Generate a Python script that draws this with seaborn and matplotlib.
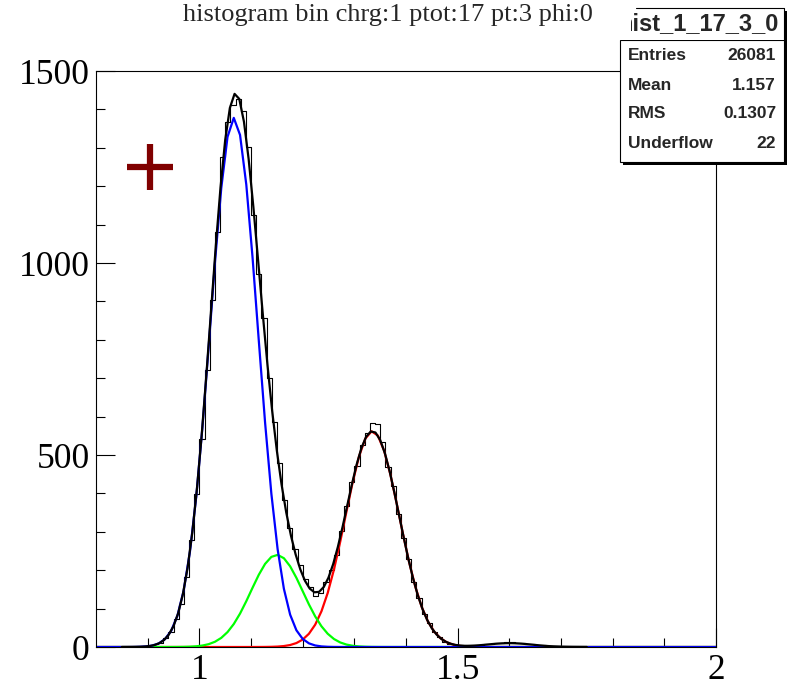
import numpy as np
import pandas as pd
import matplotlib
matplotlib.use("Agg")
import matplotlib.pyplot as plt
from matplotlib.patches import Rectangle
from matplotlib.lines import Line2D
from matplotlib.transforms import Bbox, TransformedBbox
import seaborn as sns

# ---- data -------------------------------------------------------------
x_lo, x_hi, n_bins = 0.8, 2.0, 120

counts = [
    0, 0, 0, 0, 0, 0, 0, 1, 0, 2,                      # 0.80 - 0.90
    3, 7, 11, 24, 38, 74, 112, 181, 279, 398,          # 0.90 - 1.00
    541, 722, 903, 1081, 1276, 1366, 1412, 1428, 1396, 1303,  # 1.00 - 1.10
    1124, 972, 858, 700, 585, 479, 384, 309, 255, 214,  # 1.10 - 1.20
    178, 156, 134, 140, 168, 201, 240, 302, 368, 429,   # 1.20 - 1.30
    472, 526, 558, 583, 580, 534, 470, 420, 347, 283,   # 1.30 - 1.40
    228, 168, 128, 86, 62, 38, 26, 14, 9, 6,            # 1.40 - 1.50
    4, 3, 5, 4, 6, 8, 9, 11, 10, 13,                    # 1.50 - 1.60
    12, 10, 11, 8, 7, 6, 4, 3, 2, 2,                    # 1.60 - 1.70
    1, 0, 1, 0, 0, 0, 0, 0, 0, 0,                       # 1.70 - 1.80
    0, 0, 0, 0, 0, 0, 0, 0, 0, 0,                       # 1.80 - 1.90
    0, 0, 0, 0, 0, 0, 0, 0, 0, 0,                       # 1.90 - 2.00
]

# fitted gaussian components: amplitude, mean, sigma
blue_par = [1378.0, 1.067, 0.046]
green_par = [240.0, 1.150, 0.050]
red_par = [562.0, 1.335, 0.052]
tail_par = [10.0, 1.600, 0.045]
total_range = [0.85, 1.75]

title_text = "histogram bin chrg:1 ptot:17 pt:3 phi:0"
hist_name = "hist_1_17_3_0"
stat_labels = ["Entries", "Mean", "RMS", "Underflow"]
stat_values = ["26081", "1.157", "0.1307", "22"]
marker_x, marker_y = 0.905, 1250

# ---- helpers ----------------------------------------------------------
def gaus(x, p):
    return p[0] * np.exp(-0.5 * ((x - p[1]) / p[2]) ** 2)

W, H = 787, 688

def fx(px):
    return px / W

def fy(py):
    return 1 - py / H

# ---- figure -----------------------------------------------------------
sns.set_style("ticks")
plt.rcParams["font.family"] = ["Liberation Serif", "DejaVu Serif"]

fig = plt.figure(figsize=(W / 100, H / 100), dpi=100)
ax = fig.add_axes([fx(96), fy(647), fx(716) - fx(96), fy(71) - fy(647)])

edges = np.linspace(x_lo, x_hi, n_bins + 1)
centers = 0.5 * (edges[:-1] + edges[1:])
df = pd.DataFrame({"x": centers, "n": counts})
sns.histplot(data=df, x="x", weights="n", bins=n_bins, binrange=(x_lo, x_hi),
             element="step", fill=False, color="black", linewidth=0.8, ax=ax)

# fit functions, sampled like a 100-point TF1
xs = np.linspace(x_lo, x_hi, 100)
xt = np.linspace(total_range[0], total_range[1], 100)
total = gaus(xt, blue_par) + gaus(xt, green_par) + gaus(xt, red_par) + gaus(xt, tail_par)
lw = 1.6
sns.lineplot(x=xs, y=gaus(xs, red_par), color="#ff0000", linewidth=lw, ax=ax, sort=False)
sns.lineplot(x=xs, y=gaus(xs, green_par), color="#00ff00", linewidth=lw, ax=ax, sort=False)
sns.lineplot(x=xs, y=gaus(xs, blue_par), color="#0000ff", linewidth=lw, ax=ax, sort=False)
sns.lineplot(x=xt, y=total, color="black", linewidth=lw, ax=ax, sort=False)

ax.plot([marker_x], [marker_y], marker="+", color="#800000",
        markersize=33, markeredgewidth=4.5, linestyle="none")

ax.set_xlim(x_lo, x_hi)
ax.set_ylim(0, 1500)
ax.set_xlabel("")
ax.set_ylabel("")
ax.set_xticks([1.0, 1.5, 2.0])
ax.set_xticklabels(["1", "1.5", "2"])
ax.set_xticks(np.arange(0.9, 2.0, 0.1), minor=True)
ax.set_yticks([0, 500, 1000, 1500])
ax.set_yticks(np.arange(0, 1501, 100), minor=True)
ax.tick_params(which="both", direction="in", width=0.8, colors="black",
               top=False, right=False)
ax.tick_params(which="major", length=13.5, labelsize=25.5)
ax.tick_params(which="minor", length=6.8)
ax.tick_params(axis="y", which="major", pad=4.5)
ax.tick_params(axis="x", which="major", pad=5)
for s in ax.spines.values():
    s.set_visible(True)
    s.set_linewidth(0.8)
    s.set_color("black")

fig.text(fx(388), fy(15), title_text, ha="center", va="center", fontsize=19)

# ---- statistics box ---------------------------------------------------
bx0, bx1 = 620, 784
ty0, ty1 = 8, 40
sy1 = 162
sh = 3
tf = fig.transFigure
# drop shadow
fig.add_artist(Rectangle((fx(bx0 + sh), fy(sy1 + sh)), fx(bx1 - bx0), fy(ty0 + sh) - fy(sy1 + sh),
                         transform=tf, facecolor="black", edgecolor="none", zorder=5))
# body with statistics
fig.add_artist(Rectangle((fx(bx0), fy(sy1)), fx(bx1 - bx0), fy(ty1) - fy(sy1),
                         transform=tf, facecolor="white", edgecolor="black",
                         linewidth=0.8, zorder=6))
# title band
fig.add_artist(Rectangle((fx(bx0), fy(ty1)), fx(bx1 - bx0), fy(ty0) - fy(ty1),
                         transform=tf, facecolor="white", edgecolor="none", zorder=6))
fig.add_artist(Line2D([fx(636), fx(bx1), fx(bx1)], [fy(ty0), fy(ty0), fy(ty1)],
                      transform=tf, color="black", linewidth=0.8, zorder=6))
name = fig.text(fx(699), fy(24), hist_name, ha="center", va="center",
                fontsize=17.0, fontweight="bold", family="Liberation Sans", zorder=7)
name.set_clip_box(TransformedBbox(Bbox.from_extents(fx(631), fy(ty1), fx(bx1 - 1), fy(ty0)), tf))
name.set_clip_on(True)

row_y = [56, 85, 114, 143]
for lab, val, ry in zip(stat_labels, stat_values, row_y):
    fig.text(fx(628), fy(ry), lab, ha="left", va="center", fontsize=12.5,
             fontweight="bold", family="Liberation Sans", zorder=7)
    fig.text(fx(776), fy(ry), val, ha="right", va="center", fontsize=12.5,
             fontweight="bold", family="Liberation Sans", zorder=7)

fig.savefig("out.png", dpi=100)
